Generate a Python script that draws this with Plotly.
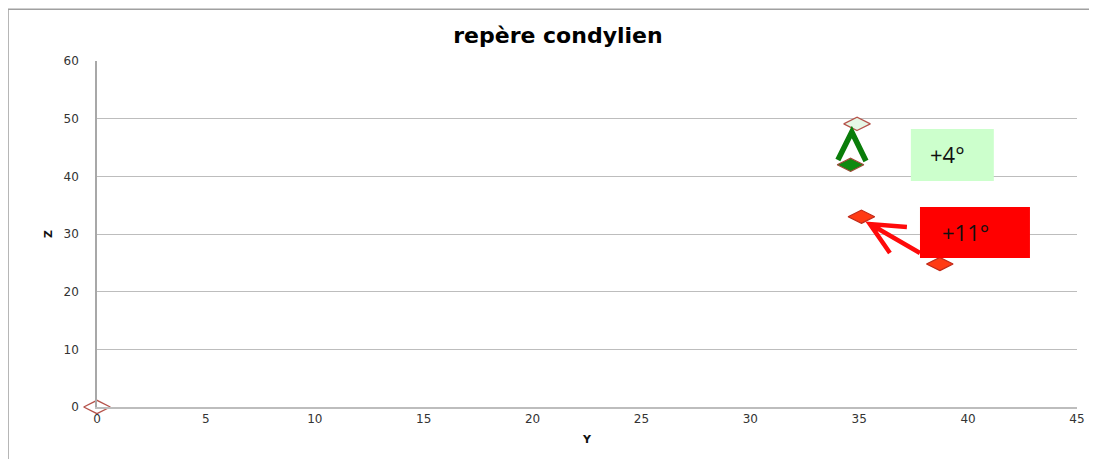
import plotly.graph_objects as go

# Data (Y, Z coordinates)
ref_y = [0, 34.9]
ref_z = [0, 49.1]
green_y = [34.6]
green_z = [42.0]
red_y = [35.1, 38.7]
red_z = [33.0, 24.8]

x_ticks = [0, 5, 10, 15, 20, 25, 30, 35, 40, 45]
y_ticks = [0, 10, 20, 30, 40, 50, 60]

fig = go.Figure()
fig.add_trace(go.Scatter(x=ref_y, y=ref_z, mode="markers", cliponaxis=False,
                         marker=dict(symbol="diamond-wide", size=19,
                                     color=["#ffffff", "#e6f7e6"],
                                     line=dict(color="#b5524a", width=1.3)),
                         showlegend=False))
fig.add_trace(go.Scatter(x=green_y, y=green_z, mode="markers", cliponaxis=False,
                         marker=dict(symbol="diamond-wide", size=19, color="#108a10",
                                     line=dict(color="#a04a3a", width=1.2)),
                         showlegend=False))
fig.add_trace(go.Scatter(x=red_y, y=red_z, mode="markers", cliponaxis=False,
                         marker=dict(symbol="diamond-wide", size=19, color="#ff3a14",
                                     line=dict(color="#c02a1a", width=1.2)),
                         showlegend=False))

shapes = []
# outer chart frame
shapes.append(dict(type="rect", xref="paper", yref="paper",
                   x0=-0.0908, x1=1.2, y0=-0.3, y1=1.1497,
                   line=dict(color="#a0a0a0", width=1.5), fillcolor="rgba(0,0,0,0)", layer="below"))
# green chevron
shapes.append(dict(type="path", xref="x", yref="y",
                   path="M 34.02 42.83 L 34.66 47.69 L 35.31 42.66",
                   line=dict(color="#0a7d0a", width=5.5), layer="above"))
# red arrow
shapes.append(dict(type="path", xref="x", yref="y",
                   path="M 37.79 26.7 L 35.49 31.73 M 37.19 31.21 L 35.49 31.73 L 36.41 26.7",
                   line=dict(color="#ff0a0a", width=4.5), layer="above"))
# label boxes
shapes.append(dict(type="rect", xref="x", yref="y", x0=37.37, x1=41.18, y0=39.19, y1=48.2,
                   fillcolor="#ccffcc", line=dict(width=0), layer="above"))
shapes.append(dict(type="rect", xref="x", yref="y", x0=37.79, x1=42.84, y0=25.84, y1=34.68,
                   fillcolor="#ff0000", line=dict(width=0), layer="above"))

annotations = [
    dict(x=39.05, y=43.8, xref="x", yref="y", text="+4°", showarrow=False,
         font=dict(family="Open Sans, DejaVu Sans", size=22, color="#111111")),
    dict(x=39.9, y=30.3, xref="x", yref="y", text="+11°", showarrow=False,
         font=dict(family="Open Sans, DejaVu Sans", size=22, color="#111111")),
]

fig.update_layout(
    width=1089, height=451,
    margin=dict(l=89, r=20, t=53, b=52),
    paper_bgcolor="white", plot_bgcolor="white",
    title=dict(text="<b>repère condylien</b>", x=0.505, xanchor="center", y=0.94, yanchor="middle",
               font=dict(family="DejaVu Sans", size=22, color="#000000")),
    shapes=shapes, annotations=annotations,
    font=dict(family="DejaVu Sans", size=12, color="#333333"),
)
fig.update_xaxes(range=[0, 45], tickvals=x_ticks, showgrid=False, zeroline=False,
                 showline=True, linecolor="#bdbdbd", linewidth=1.5, ticks="",
                 title=dict(text="<b>Y</b>", font=dict(size=11, color="#111111"), standoff=10),
                 tickfont=dict(size=12, color="#333333"))
fig.update_yaxes(range=[0, 60], tickvals=y_ticks, showgrid=True, gridcolor="#bdbdbd", gridwidth=1,
                 zeroline=False, showline=True, linecolor="#a8a8a8", linewidth=1.5, ticks="",
                 ticklabelstandoff=14,
                 title=dict(text="<b>Z</b>", font=dict(size=11, color="#111111"), standoff=9),
                 tickfont=dict(size=12, color="#333333"))

fig.write_html("out.html")
